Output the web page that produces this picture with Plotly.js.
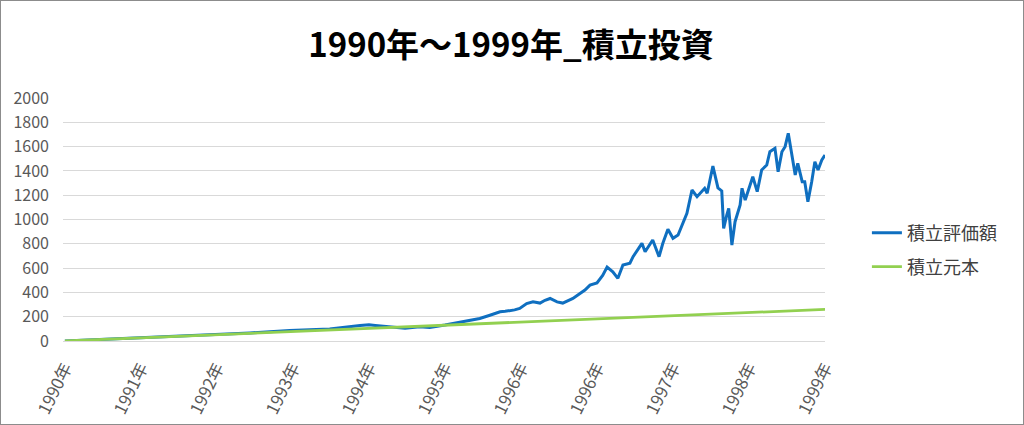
<!DOCTYPE html>
<html><head><meta charset="utf-8">
<script src="https://cdn.plot.ly/plotly-3.0.1.min.js"></script>
<style>
html,body{margin:0;padding:0;background:#fff;}
#chart{width:1022px;height:423px;border:1px solid #8c8c8c;}
</style></head>
<body><div id="chart"></div>
<script>
// Tick labels (one per tick, as in the original)
const tickPositions = [0,12,24,36,48,60,72,84,96,108,120];
const tickLabels = ["1990年","1991年","1992年","1993年","1994年","1995年","1996年","1996年","1997年","1998年","1999年"];

// 積立評価額, x = month index
const evalMonths = [0,5.5,11.8,18.2,23.7,29.2,35.5,41.8,46.6,48,49,52.1,53.7,56,57.6,60,
  61.3,63.9,65.5,67.1,68.7,69.5,70.3,71,71.8,72.9,73.9,75,75.8,76.6,77.7,78.6,80.2,81.3,82.1,82.9,84,84.9,85.6,86.5,87.3,88.1,89.2,89.7,
  91.1,91.6,92.8,93.8,94.4,95.2,96,96.8,98.2,99,99.8,101,101.4,102.3,103.1,103.7,104,104.5,104.8,105.3,105.8,106.6,106.9,107.4,
  108.2,108.6,109.3,110,110.8,111.3,112.1,112.6,113.2,113.7,114.2,114.8,115.3,115.7,116.4,116.8,117.3,117.9,118.4,118.9,119.5,120];
const evalValues = [0,12,24,42,56,66,86,98,128,134,128,112,104,118,112,132,
  145,165,185,212,240,244,250,256,268,308,322,312,335,350,322,312,350,392,420,460,478,540,608,570,516,625,640,694,
  804,735,831,694,804,919,845,872,1051,1243,1188,1257,1216,1440,1260,1235,927,1037,1092,790,982,1119,1257,1160,
  1284,1352,1229,1407,1448,1558,1586,1393,1558,1599,1709,1517,1366,1462,1311,1311,1146,1311,1476,1407,1490,1531];

// 積立元本
const principalMonths = [0,12,24,36,48,60,72,84,96,108,120];
const principalValues = [0,26,52,78,104,130,156,182,208,234,260];

const seriesNames = ["積立評価額","積立元本"];
const FONT = '"Noto Sans CJK JP", "Noto Sans", sans-serif';

const traces = [
  {x: evalMonths, y: evalValues, name: seriesNames[0], type: 'scatter', mode: 'lines',
   line: {color: '#0F6FC0', width: 3}, legend: 'legend'},
  {x: principalMonths, y: principalValues, name: seriesNames[1], type: 'scatter', mode: 'lines',
   line: {color: '#92D050', width: 2.8}, legend: 'legend2'}
];

const legendCommon = {xanchor: 'left', yanchor: 'middle', bgcolor: 'rgba(0,0,0,0)',
  font: {family: FONT, size: 18, color: '#404040'}};

const layout = {
  width: 1022, height: 423,
  margin: {l: 62, r: 198, t: 97, b: 83},
  paper_bgcolor: '#fff', plot_bgcolor: '#fff',
  title: {text: '1990年～1999年_積立投資', font: {family: FONT, size: 33, color: '#000', weight: 'bold'},
          x: 0.499, xref: 'container', xanchor: 'center', y: 0.895, yanchor: 'middle'},
  showlegend: true,
  legend: Object.assign({x: 1.055, y: 0.444}, legendCommon),
  legend2: Object.assign({x: 1.055, y: 0.305}, legendCommon),
  xaxis: {range: [-0.3, 120], tickvals: tickPositions, ticktext: tickLabels, tickangle: -64,
          showgrid: false, zeroline: false, showline: true, linecolor: '#d9d9d9', linewidth: 1,
          ticks: '', ticklabelstandoff: 9, tickfont: {family: FONT, size: 17, color: '#595959'}, fixedrange: true},
  yaxis: {range: [0, 2000], dtick: 200, showgrid: true, gridcolor: '#d9d9d9', gridwidth: 1,
          zeroline: false, showline: false, ticks: '', ticklabelstandoff: 13,
          tickfont: {family: FONT, size: 16, color: '#595959'}, fixedrange: true}
};

Plotly.newPlot('chart', traces, layout, {displayModeBar: false, staticPlot: true});
</script>
</body></html>
